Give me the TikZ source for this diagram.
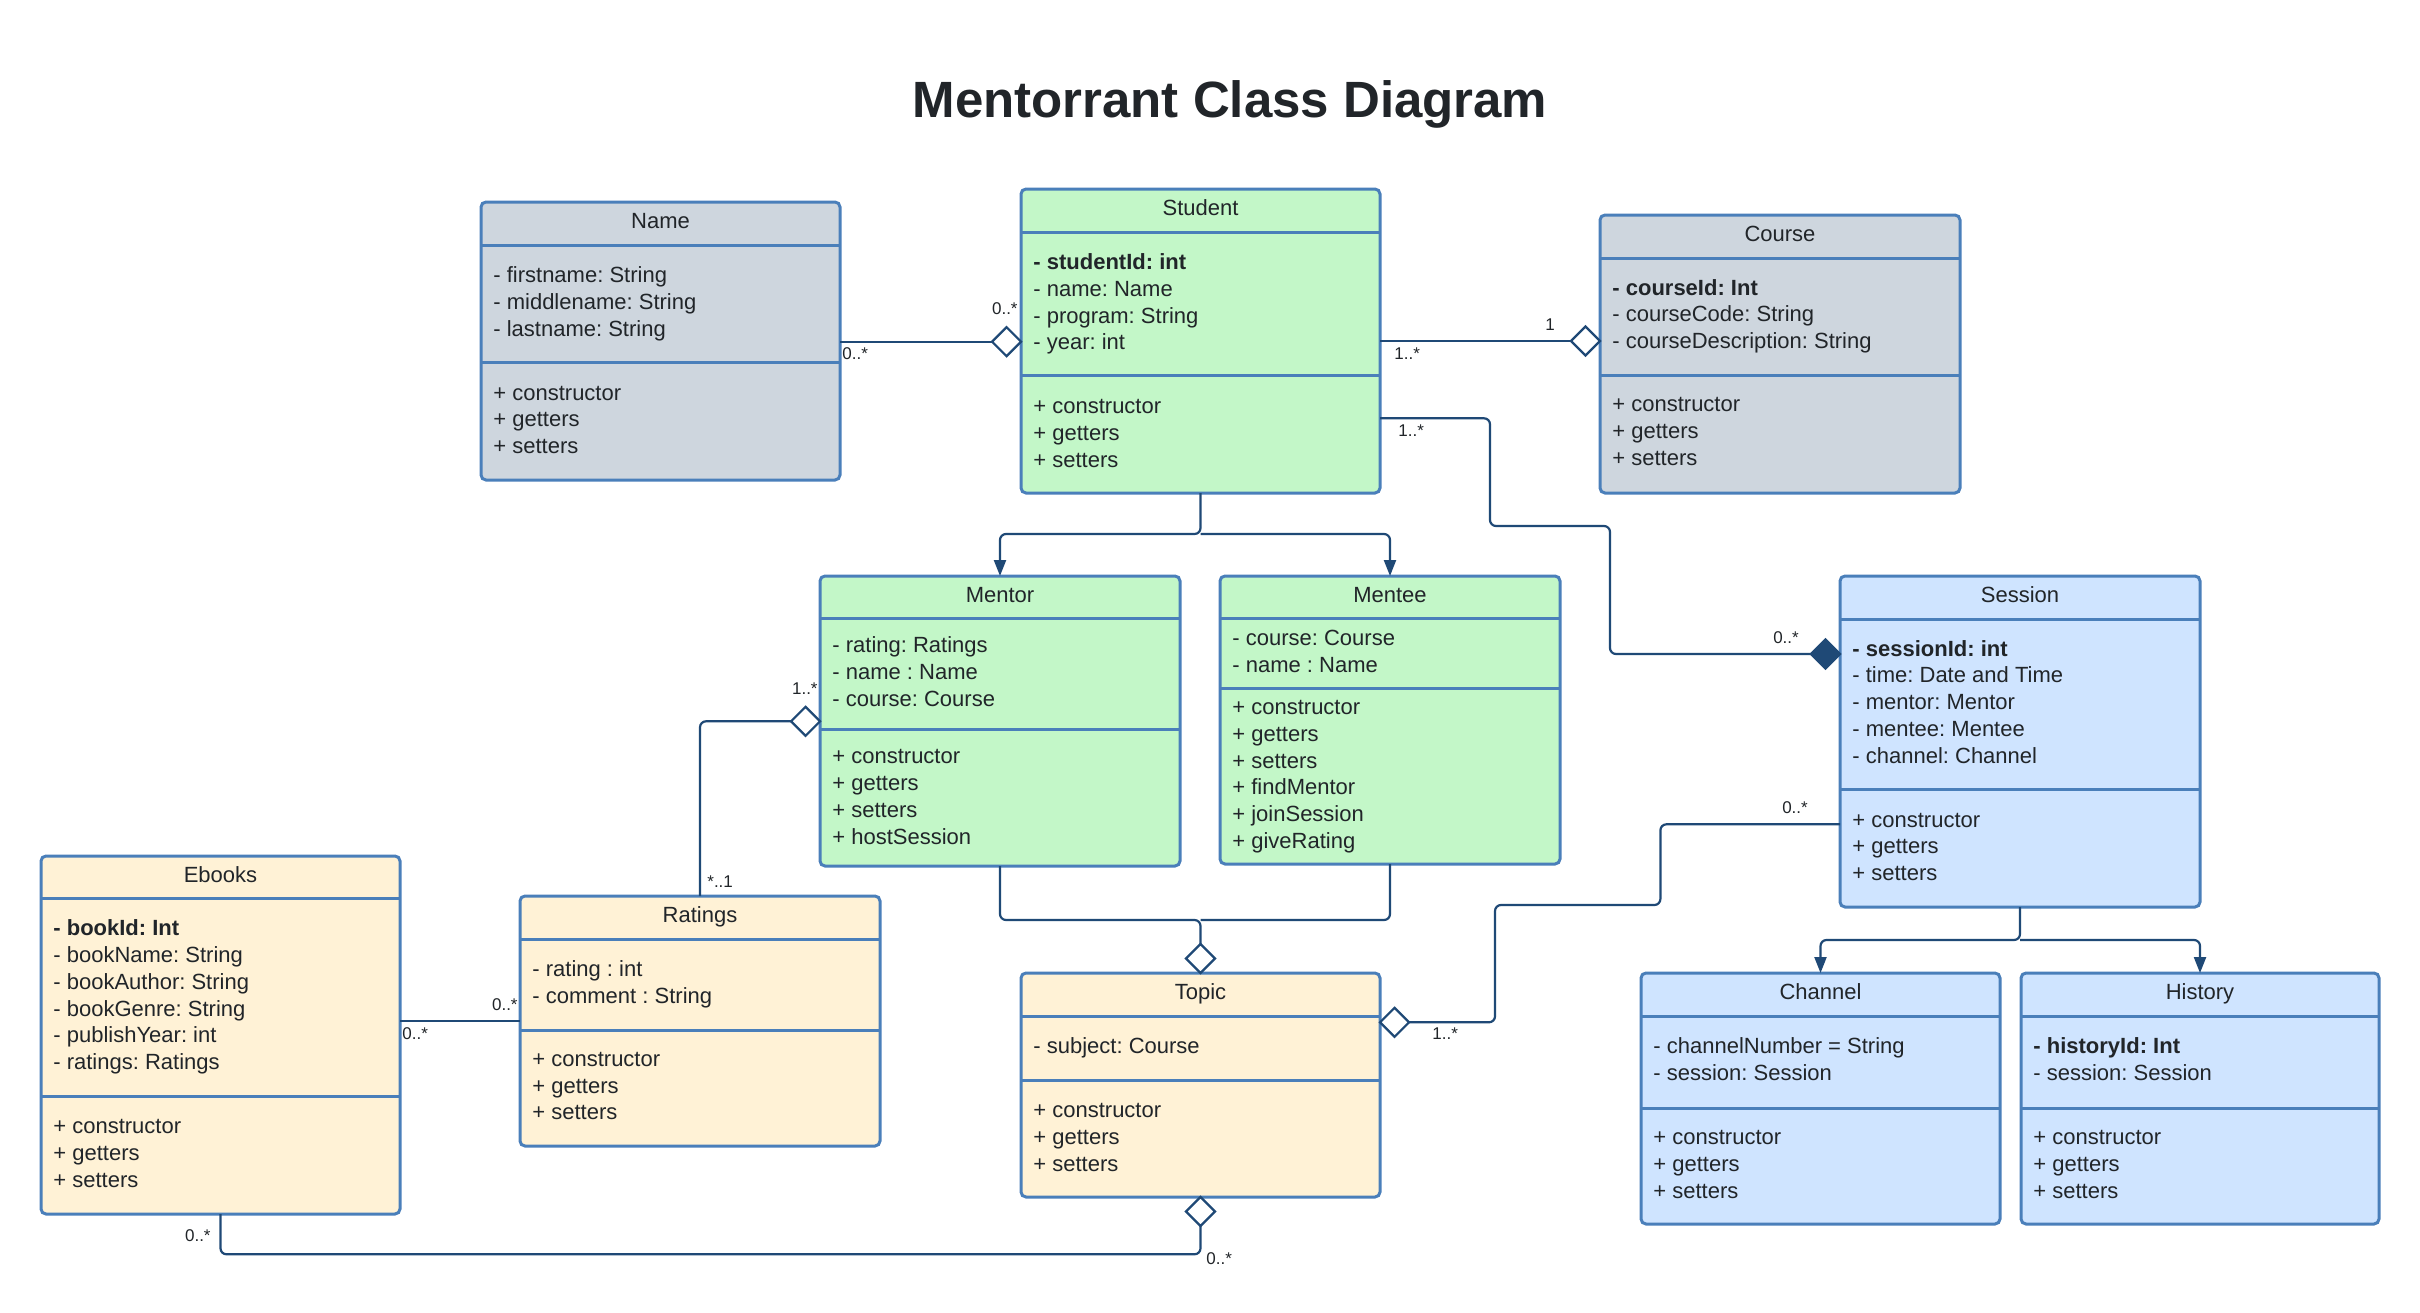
\documentclass[tikz,border=0pt]{standalone}
\usepackage{fontspec}
\setmainfont{Liberation Sans}
\usetikzlibrary{shapes.geometric,arrows.meta,calc}
\frenchspacing
\definecolor{bd}{RGB}{74,127,186}
\definecolor{ln}{RGB}{31,73,118}
\definecolor{tx}{RGB}{33,37,41}
\definecolor{cgrey}{RGB}{206,214,222}
\definecolor{cgreen}{RGB}{195,247,200}
\definecolor{cblue}{RGB}{207,228,255}
\definecolor{ccream}{RGB}{255,242,214}
\tikzset{
  cls/.style={draw=bd, line width=1.5pt, rounded corners=2.5pt, inner sep=0pt, outer sep=0pt, anchor=north west},
  div/.style={draw=bd, line width=1.5pt},
  txt/.style={anchor=west, inner sep=0pt, text height=7.9pt, text depth=0pt, font=\fontsize{11}{13}\selectfont, text=tx},
  ttl/.style={anchor=center, inner sep=0pt, text height=7.9pt, text depth=0pt, font=\fontsize{11}{13}\selectfont, text=tx},
  lbl/.style={inner sep=0pt, text height=6.1pt, text depth=0pt, font=\fontsize{8.5}{10}\selectfont, text=tx},
  conn/.style={draw=ln, line width=1.1pt, rounded corners=3pt},
  arr/.style={conn, -{Triangle[width=6pt,length=8pt]}},
  agg/.style={diamond, draw=ln, fill=white, line width=1.1pt, minimum width=14.5pt, minimum height=14.5pt, inner sep=0pt, outer sep=0pt, aspect=1},
  comp/.style={agg, fill=ln}
}
\newcommand{\umlbox}[9]{%
  \node[cls, fill=#8, minimum width={(#4-#2)*0.5pt}, minimum height={(#7-#3)*0.5pt}] (#1) at (#2,#3) {};
  \draw[div] (#2,#5) -- (#4,#5);
  \draw[div] (#2,#6) -- (#4,#6);
  \node[ttl] (#1-title) at ({(#2+#4)/2}, {(#3+#5)/2-2.5}) {#9};
}
\newcommand{\umlrows}[4]{%
  \foreach \t [count=\i] in {#4} {\node[txt] (#1\i) at (#2, {#3+(\i-1)*26.7}) {\t};}
}
\begin{document}
\begin{tikzpicture}[x=0.5pt,y=-0.5pt]
\fill[white] (0,0) rectangle (2420,1312);
\useasboundingbox (0,0) rectangle (2420,1312);

\node[anchor=center, inner sep=0pt, text height=18.3pt, text depth=0pt, font=\bfseries\fontsize{25.5}{30}\selectfont, text=tx] (title) at (1230,99) {Mentorrant Class Diagram};

% Name
\umlbox{name}{481}{202}{840}{245}{362}{480}{cgrey}{Name}
\umlrows{name-a}{493}{275}{- firstname: String,- middlename: String,- lastname: String}
\umlrows{name-m}{493}{392.3}{+ constructor,+ getters,+ setters}
% Student
\umlbox{student}{1021}{189}{1380}{232}{375}{493}{cgreen}{Student}
\umlrows{student-a}{1033}{261.7}{\textbf{- studentId: int},- name: Name,- program: String,- year: int}
\umlrows{student-m}{1033}{406}{+ constructor,+ getters,+ setters}
% Course
\umlbox{course}{1600}{215}{1960}{258}{375}{493}{cgrey}{Course}
\umlrows{course-a}{1612}{287.3}{\textbf{- courseId: Int},- courseCode: String,- courseDescription: String}
\umlrows{course-m}{1612}{404}{+ constructor,+ getters,+ setters}
% Mentor
\umlbox{mentor}{820}{576}{1180}{618}{729}{866}{cgreen}{Mentor}
\umlrows{mentor-a}{832}{645}{- rating: Ratings,- name : Name,- course: Course}
\umlrows{mentor-m}{832}{756}{+ constructor,+ getters,+ setters,+ hostSession}
% Mentee
\umlbox{mentee}{1220}{576}{1560}{618}{688}{864}{cgreen}{Mentee}
\umlrows{mentee-a}{1232}{637.7}{- course: Course,- name : Name}
\umlrows{mentee-m}{1232}{706.7}{+ constructor,+ getters,+ setters,+ findMentor,+ joinSession,+ giveRating}
% Session
\umlbox{session}{1840}{576}{2200}{619}{789}{907}{cblue}{Session}
\umlrows{session-a}{1852}{648.3}{\textbf{- sessionId: int},- time: Date and Time,- mentor: Mentor,- mentee: Mentee,- channel: Channel}
\umlrows{session-m}{1852}{819.3}{+ constructor,+ getters,+ setters}
% Ebooks
\umlbox{ebooks}{41}{856}{400}{898}{1096}{1214}{ccream}{Ebooks}
\umlrows{ebooks-a}{53}{928}{\textbf{- bookId: Int},- bookName: String,- bookAuthor: String,- bookGenre: String,- publishYear: int,- ratings: Ratings}
\umlrows{ebooks-m}{53}{1125.8}{+ constructor,+ getters,+ setters}
% Ratings
\umlbox{ratings}{520}{896}{880}{939}{1030}{1146}{ccream}{Ratings}
\umlrows{ratings-a}{532}{968.4}{- rating : int,- comment : String}
\umlrows{ratings-m}{532}{1058.6}{+ constructor,+ getters,+ setters}
% Topic
\umlbox{topic}{1021}{973}{1380}{1016}{1080}{1197}{ccream}{Topic}
\umlrows{topic-a}{1033}{1046}{- subject: Course}
\umlrows{topic-m}{1033}{1110}{+ constructor,+ getters,+ setters}
% Channel
\umlbox{channel}{1641}{973}{2000}{1016}{1108}{1224}{cblue}{Channel}
\umlrows{channel-a}{1653}{1046}{- channelNumber = String,- session: Session}
\umlrows{channel-m}{1653}{1136.7}{+ constructor,+ getters,+ setters}
% History
\umlbox{history}{2021}{973}{2379}{1016}{1108}{1224}{cblue}{History}
\umlrows{history-a}{2033}{1046}{\textbf{- historyId: Int},- session: Session}
\umlrows{history-m}{2033}{1136.7}{+ constructor,+ getters,+ setters}

% Name -- Student
\node[agg, anchor=east] (dNS) at (student.west |- 0,341.7) {};
\draw[conn] (name.east |- 0,341.7) -- (dNS.west);
\node[lbl, anchor=west] (lNS1) at (842,353) {0..*};
\node[lbl, anchor=east] (lNS2) at (1018,308) {0..*};

% Student -- Course
\node[agg, anchor=east] (dSC) at (course.west |- 0,341) {};
\draw[conn] (student.east |- 0,341) -- (dSC.west);
\node[lbl, anchor=west] (lSC1) at (1394,353) {1..*};
\node[lbl] (lSC2) at (1550,324) {1};

% Student -- Session
\node[comp, anchor=east] (dSS) at (session.west |- 0,654) {};
\draw[conn] (student.east |- 0,418.3) -- (1490,418.3) -- (1490,526) -- (1610,526) -- (1610,654) -- (dSS.west);
\node[lbl, anchor=west] (lSS1) at (1398,430) {1..*};
\node[lbl] (lSS2) at (1786,637) {0..*};

% Student -> Mentor, Mentee
\coordinate (sj) at (1200.5,534);
\draw[arr] (student.south) -- (sj) -| (mentor.north);
\draw[arr] (sj) -| (mentee.north);

% Mentor, Mentee -- Topic
\node[agg, anchor=south] (dTT) at (topic.north) {};
\coordinate (tj) at (1200.5,920);
\draw[conn] (mentor.south) |- (tj) -- (dTT.north);
\draw[conn] (mentee.south) |- (tj);

% Ratings -- Mentor
\node[agg, anchor=east] (dRM) at (mentor.west |- 0,721.3) {};
\draw[conn] (ratings.north) |- (dRM.west);
\node[lbl, anchor=east] (lRM1) at (818,688) {1..*};
\node[lbl, anchor=west] (lRM2) at (707,881) {*..1};

% Ebooks -- Ratings
\draw[conn] (ebooks.east |- 0,1020.6) -- (ratings.west |- 0,1020.6);
\node[lbl, anchor=west] (lER1) at (402,1033) {0..*};
\node[lbl, anchor=east] (lER2) at (518,1004) {0..*};

% Ebooks -- Topic
\node[agg, anchor=north] (dTB) at (topic.south) {};
\coordinate (eb) at (dTB.south |- 0,1254.3);
\draw[conn] (ebooks.south) |- (eb) -- (dTB.south);
\node[lbl, anchor=east] (lET1) at (211,1235) {0..*};
\node[lbl, anchor=west] (lET2) at (1206,1258) {0..*};

% Session -- Topic
\node[agg, anchor=west] (dTR) at (topic.east |- 0,1022.3) {};
\draw[conn] (session.west |- 0,824.3) -- (1660.4,824.3) -- (1660.4,905) -- (1495,905) -- (1495,1022.3) -- (dTR.east);
\node[lbl] (lST1) at (1795,807) {0..*};
\node[lbl, anchor=west] (lST2) at (1432,1033) {1..*};

% Session -> Channel, History
\coordinate (sc) at (2020,940);
\draw[arr] (session.south) -- (sc) -| (channel.north);
\draw[arr] (sc) -| (history.north);
\end{tikzpicture}
\end{document}
